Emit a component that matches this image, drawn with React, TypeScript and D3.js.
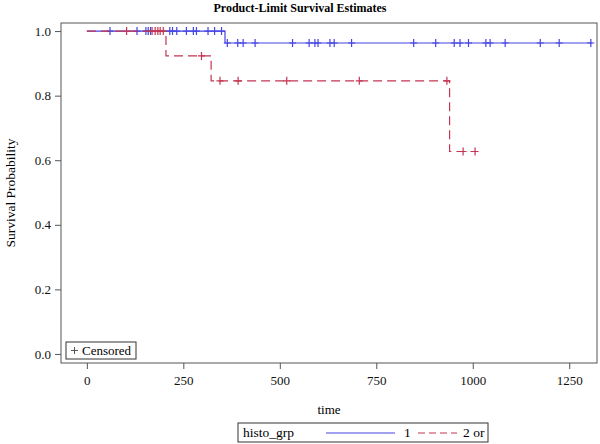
import { useEffect, useRef } from 'react';
import * as d3 from 'd3';

// step functions
const grp1Times = [0, 358];
const grp1Surv = [1.0, 0.963];
const grp1End = 1310;
const grp1Censored = [60, 130, 153, 159, 165, 215, 222, 233, 258, 276, 284, 314, 331, 349,
    364, 391, 405, 436, 533, 576, 591, 599, 630, 641, 686,
    847, 904, 952, 967, 989, 1034, 1045, 1084, 1175, 1224, 1306];

const grp2Times = [0, 205, 322, 940];
const grp2Surv = [1.0, 0.923, 0.846, 0.627];
const grp2End = 1010;
const grp2Censored = [103, 169, 177, 184, 190, 198, 297, 345, 392, 518, 706, 933, 975, 1006];

const xTicks = [0, 250, 500, 750, 1000, 1250];
const yTicks = [0.0, 0.2, 0.4, 0.6, 0.8, 1.0];

const BLUE = '#4545E2';
const RED = '#C43552';
const FONT = '"Liberation Serif", "Times New Roman", serif';

function App() {
    const ref = useRef<SVGSVGElement>(null);

    useEffect(() => {
        const svg = d3.select(ref.current);
        svg.selectAll('*').remove();

        const left = 61, right = 597, top = 23, bottom = 363;
        const x = d3.scaleLinear().domain([-67, 1322]).range([left, right]);
        const y = d3.scaleLinear().domain([-0.028, 1.025]).range([bottom, top]);

        svg.append('text')
            .attr('x', 300).attr('y', 12)
            .attr('text-anchor', 'middle')
            .attr('font-family', FONT).attr('font-weight', 'bold').attr('font-size', 12)
            .text('Product-Limit Survival Estimates');

        // frame
        svg.append('rect')
            .attr('x', left).attr('y', top)
            .attr('width', right - left).attr('height', bottom - top)
            .attr('fill', 'none').attr('stroke', '#555').attr('stroke-width', 1);

        const xAxis = svg.append('g')
            .attr('transform', `translate(0,${bottom})`)
            .call(d3.axisBottom(x).tickValues(xTicks).tickSize(6).tickPadding(7).tickFormat(d3.format('d')));
        const yAxis = svg.append('g')
            .attr('transform', `translate(${left},0)`)
            .call(d3.axisLeft(y).tickValues(yTicks).tickSize(6).tickPadding(4).tickFormat(d3.format('.1f')));
        [xAxis, yAxis].forEach(g => {
            g.select('.domain').remove();
            g.selectAll('line').attr('stroke', '#555');
            g.selectAll('text').attr('font-family', FONT).attr('font-size', 13).attr('fill', '#111');
        });

        svg.append('text')
            .attr('x', (left + right) / 2).attr('y', 414)
            .attr('text-anchor', 'middle')
            .attr('font-family', FONT).attr('font-size', 13)
            .text('time');
        svg.append('text')
            .attr('transform', `translate(15,${(top + bottom) / 2}) rotate(-90)`)
            .attr('text-anchor', 'middle')
            .attr('font-family', FONT).attr('font-size', 13.5)
            .text('Survival Probability');

        const survAt = (times: number[], surv: number[], t: number) => {
            let s = surv[0];
            times.forEach((tt, i) => { if (t >= tt) s = surv[i]; });
            return s;
        };

        const drawGroup = (times: number[], surv: number[], end: number, cens: number[], color: string, dash: string | null) => {
            const pts: [number, number][] = times.map((t, i) => [t, surv[i]]);
            pts.push([end, surv[surv.length - 1]]);
            const line = d3.line<[number, number]>()
                .x(d => x(d[0])).y(d => y(d[1]))
                .curve(d3.curveStepAfter);
            const path = svg.append('path')
                .attr('d', line(pts))
                .attr('fill', 'none').attr('stroke', color).attr('stroke-width', 1.2);
            if (dash) path.attr('stroke-dasharray', dash);

            svg.append('g')
                .selectAll('path')
                .data(cens)
                .join('path')
                .attr('transform', d => `translate(${x(d)},${y(survAt(times, surv, d))})`)
                .attr('d', 'M-3.5,0H3.5M0,-4V4')
                .attr('stroke', color).attr('stroke-width', 1.2);
        };

        drawGroup(grp1Times, grp1Surv, grp1End, grp1Censored, BLUE, null);
        drawGroup(grp2Times, grp2Surv, grp2End, grp2Censored, RED, '9,5');

        // censored inset legend
        const cl = svg.append('g').attr('transform', 'translate(66,342)');
        cl.append('rect').attr('width', 70).attr('height', 17)
            .attr('fill', 'white').attr('stroke', '#333');
        cl.append('path').attr('d', 'M5,8.5H12M8.5,5V12').attr('stroke', '#555');
        cl.append('text').attr('x', 16).attr('y', 13)
            .attr('font-family', FONT).attr('font-size', 13)
            .text('Censored');

        // group legend
        const lg = svg.append('g').attr('transform', 'translate(238,423)');
        lg.append('rect').attr('width', 250).attr('height', 19)
            .attr('fill', 'white').attr('stroke', '#333');
        lg.append('text').attr('x', 5).attr('y', 14)
            .attr('font-family', FONT).attr('font-size', 13.5).text('histo_grp');
        lg.append('line').attr('x1', 88).attr('x2', 157).attr('y1', 10).attr('y2', 10)
            .attr('stroke', BLUE).attr('stroke-width', 1.2);
        lg.append('text').attr('x', 166).attr('y', 14)
            .attr('font-family', FONT).attr('font-size', 13.5).text('1');
        lg.append('line').attr('x1', 180).attr('x2', 219).attr('y1', 10).attr('y2', 10)
            .attr('stroke', RED).attr('stroke-width', 1.2).attr('stroke-dasharray', '7,4');
        lg.append('text').attr('x', 225).attr('y', 14)
            .attr('font-family', FONT).attr('font-size', 13.5).text('2 or');
    });

    return (
        <svg ref={ref} width={600} height={444}
            style={{ position: 'absolute', left: 0, top: 0, display: 'block', background: 'white' }}></svg>
    );
}

export default App;
